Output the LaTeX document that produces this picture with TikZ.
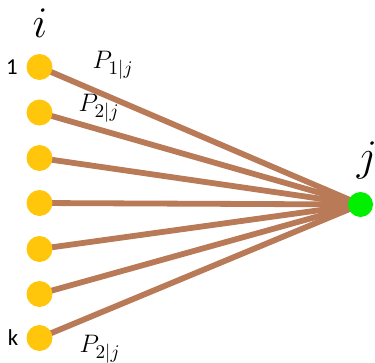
\documentclass[tikz,border=0pt]{standalone}
\usepackage{fontspec}
\newfontfamily\labelfont{Carlito}
\usetikzlibrary{backgrounds}
\definecolor{dotyellow}{RGB}{255,198,12}
\definecolor{dotgreen}{RGB}{0,240,0}
\definecolor{linkbrown}{RGB}{185,122,87}

\begin{document}
\begin{tikzpicture}[x=0.02cm,y=-0.02cm,
    yellowdot/.style={circle,fill=dotyellow,minimum size=0.52cm,inner sep=0pt},
    greendot/.style={circle,fill=dotgreen,minimum size=0.5cm,inner sep=0pt},
    link/.style={draw=linkbrown,line width=3.3pt}]
  \useasboundingbox(0,0)rectangle(375,362);
  % sources i and target j
  \foreach \n/\y in {1/67,2/112.5,3/158,4/203,5/249,6/294,7/338}
    \node[yellowdot](i\n)at(39.5,\y){};
  \node[greendot](j)at(360.5,204.5){};
  \begin{scope}[on background layer]
    \foreach \n in {1,...,7}
      \draw[link](i\n.center)--(j.center);
  \end{scope}
  % labels
  \node(ilabel)at(40,23){\fontsize{26}{26}\selectfont$i$};
  \node(jlabel)at(367,160){\fontsize{26}{26}\selectfont$j$};
  \node(first)at(12,67){\labelfont\fontsize{13}{13}\selectfont 1};
  \node(last)at(13,338){\labelfont\fontsize{13}{13}\selectfont k};
  \node(p1)at(113,65){\fontsize{15}{15}\selectfont$P_{1|j}$};
  \node(p2)at(99,108){\fontsize{15}{15}\selectfont$P_{2|j}$};
  \node(pk)at(100,349){\fontsize{15}{15}\selectfont$P_{2|j}$};
\end{tikzpicture}
\end{document}
